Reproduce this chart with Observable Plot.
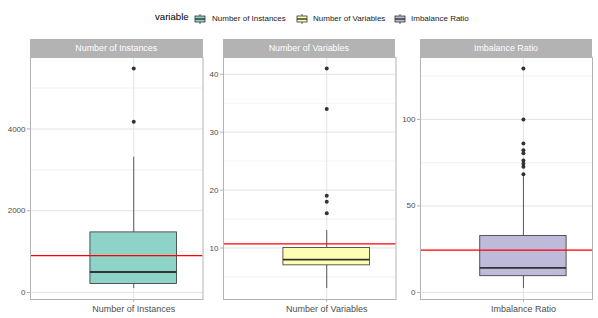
<!DOCTYPE html>
<html>
<head>
<meta charset="utf-8">
<script src="https://cdn.jsdelivr.net/npm/d3@7"></script>
<script src="https://cdn.jsdelivr.net/npm/@observablehq/plot@0.6"></script>
<style>
  html, body { margin: 0; padding: 0; background: #fff; }
  #root { position: relative; width: 598px; height: 318px; overflow: hidden; font-family: 'Liberation Sans', Arial, sans-serif; }
  .strip { position: absolute; background: #B3B3B3; color: #fff; font-size: 8.9px; display: flex; align-items: center; justify-content: center; }
  .leg { position: absolute; white-space: nowrap; }
  .panel { position: absolute; }
</style>
</head>
<body>
<div id="root"></div>
<script>
// ---- data ----
const variables = ["Number of Instances", "Number of Variables", "Imbalance Ratio"];
const fillColors = ["#8DD3C7", "#FFFFB3", "#BEBADA"];
const whiskerLow = [98, 3, 2.3];
const boxQ1 = [210, 7, 9.4];
const medians = [502, 8, 14.2];
const boxQ3 = [1470, 10, 32.6];
const whiskerHigh = [3307, 13, 67];
const means = [902, 10.7, 24.5];
const outliers = [
  [4178, 5478],
  [16, 18, 19, 34, 41],
  [68.3, 72.7, 74.3, 76.2, 80.4, 82.1, 86, 100, 129.4]
];
const majorTicks = [[0, 2000, 4000], [10, 20, 30, 40], [0, 50, 100]];
const minorTicks = [[1000, 3000, 5000], [5, 15, 25, 35], [25, 75, 125]];
const legendTitle = "variable";

// ---- layout ----
const root = document.getElementById("root");
const panels = [[30, 202.5], [222.5, 395], [420, 592]];
const stripTop = 39, panelTop = 57, panelBottom = 299;
const svgTop = 53;

function addDiv(cls, styles, text) {
  const d = document.createElement("div");
  d.className = cls;
  Object.assign(d.style, styles);
  if (text != null) d.textContent = text;
  root.appendChild(d);
  return d;
}

// legend
addDiv("leg", {left: "155px", top: "11px", fontSize: "9.6px", color: "#000"}, legendTitle);
const keyX = [194, 296, 394];
const labelX = [212, 313, 411];
variables.forEach((v, i) => {
  const k = addDiv("leg", {left: keyX[i] + "px", top: "13px", width: "12px", height: "12px"});
  k.innerHTML = `<svg width="12" height="12" style="display:block">
    <line x1="6" x2="6" y1="1" y2="11" stroke="#333" stroke-width="0.8"/>
    <rect x="1" y="3" width="10" height="6" fill="${fillColors[i]}" stroke="#333" stroke-width="0.8"/>
    <line x1="1" x2="11" y1="6" y2="6" stroke="#333" stroke-width="1.4"/>
  </svg>`;
  addDiv("leg", {left: labelX[i] + "px", top: "13.5px", fontSize: "8px", color: "#1a1a1a"}, v);
});

variables.forEach((name, i) => {
  const [L, R] = panels[i];
  // strip
  addDiv("strip", {left: L + "px", top: stripTop + "px", width: (R - L) + "px", height: (panelTop - stripTop) + "px"}, name);

  const lo = whiskerLow[i];
  const hi = Math.max(whiskerHigh[i], ...outliers[i]);
  const pad = (hi - lo) * 0.05;
  const row = {low: whiskerLow[i], q1: boxQ1[i], med: medians[i], q3: boxQ3[i], high: whiskerHigh[i]};
  const half = 0.375;
  const marginLeft = 30, marginRight = 2;
  const width = marginLeft + (R - L) + marginRight;
  const height = 318 - svgTop;
  const marginTop = panelTop - svgTop;
  const marginBottom = height - (panelBottom - svgTop);

  const chart = Plot.plot({
    width, height, marginLeft, marginRight, marginTop, marginBottom,
    style: {fontFamily: "'Liberation Sans', Arial, sans-serif", fontSize: "8px", color: "#4D4D4D", background: "transparent", overflow: "visible"},
    x: {domain: [-0.894, 0.6], label: null},
    y: {domain: [lo - pad, hi + pad], label: null},
    marks: [
      Plot.gridY(minorTicks[i], {stroke: "#E3E3E3", strokeOpacity: 1, strokeWidth: 0.5}),
      Plot.gridY(majorTicks[i], {stroke: "#E0E0E0", strokeOpacity: 1, strokeWidth: 0.9}),
      Plot.gridX([0], {stroke: "#E0E0E0", strokeOpacity: 1, strokeWidth: 0.9}),
      Plot.axisY(majorTicks[i], {tickSize: 3, tickPadding: 2, stroke: "#B3B3B3", fill: "#4D4D4D", fontSize: 8, tickFormat: d => String(d)}),
      Plot.axisX([0], {tickSize: 3, tickPadding: 3, stroke: "#B3B3B3", fill: "#4D4D4D", fontSize: 9, tickFormat: () => name}),
      Plot.ruleX([row], {x: () => 0, y1: "low", y2: "q1", stroke: "#333", strokeWidth: 0.8}),
      Plot.ruleX([row], {x: () => 0, y1: "q3", y2: "high", stroke: "#333", strokeWidth: 0.8}),
      Plot.rect([row], {x1: () => -half, x2: () => half, y1: "q1", y2: "q3", fill: fillColors[i], stroke: "#333", strokeWidth: 0.8}),
      Plot.ruleY([row], {y: "med", x1: () => -half, x2: () => half, stroke: "#333", strokeWidth: 1.8}),
      Plot.dot(outliers[i], {x: () => 0, y: d => d, r: 2, fill: "#333", stroke: null}),
      Plot.ruleY([means[i]], {stroke: "#FF0000", strokeWidth: 1.3}),
      Plot.frame({stroke: "#B3B3B3", strokeWidth: 1})
    ]
  });
  chart.classList.add("panel");
  chart.style.position = "absolute";
  chart.style.left = (L - marginLeft) + "px";
  chart.style.top = svgTop + "px";
  root.appendChild(chart);
});
</script>
</body>
</html>
